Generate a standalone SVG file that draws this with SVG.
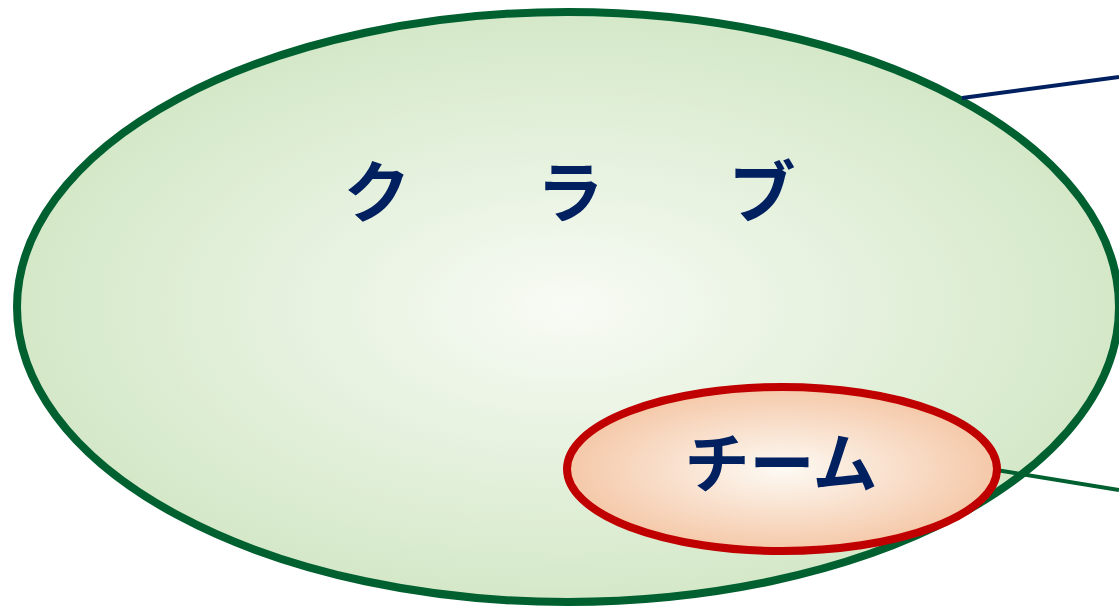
<svg xmlns="http://www.w3.org/2000/svg" width="1119" height="610" viewBox="0 0 1119 610">
<defs>
<radialGradient id="gClub" cx="50%" cy="50%" r="50%">
<stop offset="0" stop-color="#f8fbf5"/>
<stop offset="1" stop-color="#d4e8c8"/>
</radialGradient>
<radialGradient id="gTeam" cx="50%" cy="50%" r="50%">
<stop offset="0" stop-color="#fdfaf4"/>
<stop offset="1" stop-color="#f5c8a8"/>
</radialGradient>
</defs>
<style>
.lbl{font-family:"Noto Sans CJK JP","Noto Sans",sans-serif;font-weight:bold;fill:#002060;text-anchor:middle;dominant-baseline:central}
</style>
<g id="club">
<ellipse cx="568" cy="307" rx="551" ry="295" fill="url(#gClub)" stroke="#006030" stroke-width="8"/>
<text class="lbl" x="377" y="187" font-size="67">ク</text>
<text class="lbl" x="570" y="187" font-size="67">ラ</text>
<text class="lbl" x="762" y="187" font-size="67">ブ</text>
</g>
<g id="connectors">
<line x1="962" y1="98" x2="1119" y2="77" stroke="#002060" stroke-width="4"/>
<line x1="990" y1="469" x2="1119" y2="490" stroke="#006030" stroke-width="4"/>
</g>
<g id="team">
<ellipse cx="782" cy="469" rx="215" ry="82" fill="url(#gTeam)" stroke="#c00000" stroke-width="8"/>
<text class="lbl" x="781" y="459" font-size="65">チーム</text>
</g>
</svg>
